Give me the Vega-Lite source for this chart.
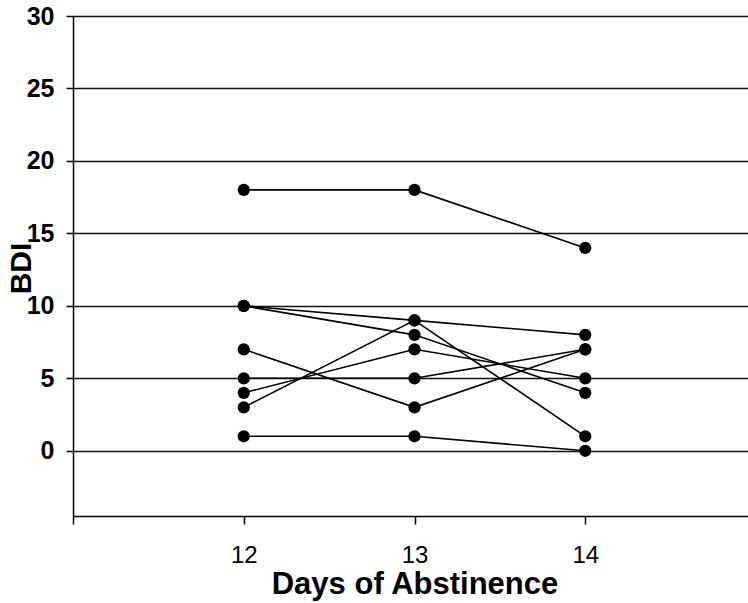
{
  "$schema": "https://vega.github.io/schema/vega-lite/v6.json",
  "autosize": "none",
  "padding": {"left": 73, "top": 16, "right": 0, "bottom": 87},
  "width": 683,
  "height": 500,
  "background": "white",
  "config": {
    "view": {"stroke": null},
    "font": "Liberation Sans"
  },
  "data": {
    "values": [
      {"subject": "A", "day": 12, "bdi": 18},
      {"subject": "A", "day": 13, "bdi": 18},
      {"subject": "A", "day": 14, "bdi": 14},
      {"subject": "B", "day": 12, "bdi": 10},
      {"subject": "B", "day": 13, "bdi": 9},
      {"subject": "B", "day": 14, "bdi": 8},
      {"subject": "C", "day": 12, "bdi": 10},
      {"subject": "C", "day": 13, "bdi": 8},
      {"subject": "C", "day": 14, "bdi": 4},
      {"subject": "D", "day": 12, "bdi": 7},
      {"subject": "D", "day": 13, "bdi": 3},
      {"subject": "D", "day": 14, "bdi": 7},
      {"subject": "E", "day": 12, "bdi": 5},
      {"subject": "E", "day": 13, "bdi": 5},
      {"subject": "E", "day": 14, "bdi": 7},
      {"subject": "F", "day": 12, "bdi": 4},
      {"subject": "F", "day": 13, "bdi": 7},
      {"subject": "F", "day": 14, "bdi": 5},
      {"subject": "G", "day": 12, "bdi": 3},
      {"subject": "G", "day": 13, "bdi": 9},
      {"subject": "G", "day": 14, "bdi": 1},
      {"subject": "H", "day": 12, "bdi": 1},
      {"subject": "H", "day": 13, "bdi": 1},
      {"subject": "H", "day": 14, "bdi": 0}
    ]
  },
  "encoding": {
    "x": {
      "field": "day",
      "type": "quantitative",
      "scale": {"domain": [11, 15], "nice": false, "zero": false},
      "axis": {
        "title": "Days of Abstinence",
        "values": [11, 12, 13, 14, 15],
        "labelExpr": "datum.value >= 12 && datum.value <= 14 ? datum.label : ''",
        "grid": false,
        "domainColor": "black",
        "domainWidth": 1.5,
        "tickColor": "black",
        "tickWidth": 1.5,
        "tickSize": 8,
        "labelFontSize": 24,
        "labelColor": "black",
        "labelPadding": 19,
        "titleFontSize": 31,
        "titleFontWeight": "bold",
        "titleColor": "black",
        "titleBaseline": "middle",
        "titleY": 68
      }
    },
    "y": {
      "field": "bdi",
      "type": "quantitative",
      "scale": {"domain": [-4.5, 30], "nice": false, "zero": false},
      "axis": {
        "title": "BDI",
        "values": [0, 5, 10, 15, 20, 25, 30],
        "grid": true,
        "gridColor": "#111",
        "gridWidth": 1.5,
        "gridOpacity": 1,
        "domainColor": "black",
        "domainWidth": 1.5,
        "tickColor": "black",
        "tickWidth": 1.5,
        "tickSize": 7,
        "labelFontSize": 25,
        "labelFontWeight": "bold",
        "labelColor": "black",
        "labelPadding": 12,
        "titleFontSize": 30,
        "titleFontWeight": "bold",
        "titleColor": "black",
        "titleBaseline": "middle",
        "titleX": -52,
        "titleY": 252
      }
    }
  },
  "layer": [
    {
      "mark": {"type": "line", "color": "black", "strokeWidth": 1.6},
      "encoding": {"detail": {"field": "subject"}}
    },
    {
      "mark": {"type": "point", "filled": true, "color": "black", "opacity": 1, "size": 150}
    }
  ]
}
